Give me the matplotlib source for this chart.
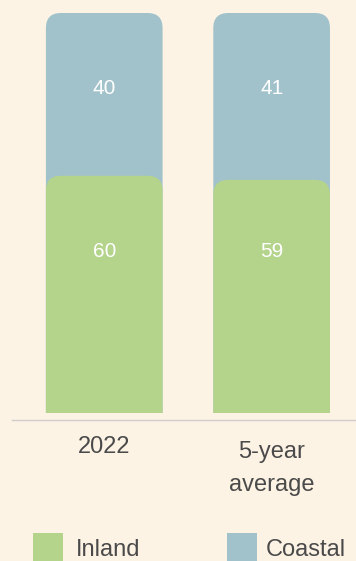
import matplotlib
matplotlib.use("Agg")
import matplotlib.pyplot as plt
from matplotlib.patches import FancyBboxPatch, Rectangle

plt.rcParams['font.family'] = ['Liberation Sans', 'DejaVu Sans']

# Share of the total (%) by region
categories = ["2022", "5-year\naverage"]
inland = [60, 59]
coastal = [40, 41]
series_names = ["Inland", "Coastal"]
series_colors = ["#b4d38b", "#a2c2cb"]

BG = "#fdf3e5"
TEXT = "#4a4a4a"
W, H = 356, 561

fig = plt.figure(figsize=(W / 100, H / 100), dpi=100, facecolor=BG)
# axes spans from the baseline (y=0) up to the top of the stacks
ax = fig.add_axes([12 / W, (H - 420) / H, 344 / W, 407 / H])
ax.set_facecolor(BG)
ax.set_xlim(-0.551, 1.504)
ax.set_ylim(0, 100)
for s in ("top", "left", "right"):
    ax.spines[s].set_visible(False)
ax.spines["bottom"].set_color("#d0cccc")
ax.spines["bottom"].set_linewidth(1.0)
ax.set_xticks([])
ax.set_yticks([])

bar_w = 0.697
radius_px = 15
# convert pixel sizes into data units
px_x = (ax.get_xlim()[1] - ax.get_xlim()[0]) / 344
px_y = 100 / 407
r_x = radius_px * px_x
aspect = px_y / px_x
gap = 7.3 * px_y  # small gap between the bars and the baseline
r_y = radius_px * px_y

clip = Rectangle((ax.get_xlim()[0], gap), 10, 200, transform=ax.transData)

for i, (a, b) in enumerate(zip(inland, coastal)):
    x0 = i - bar_w / 2
    for bottom, top, color in ((-r_y, a + b, series_colors[1]),
                               (-r_y, a, series_colors[0])):
        p = FancyBboxPatch((x0, bottom), bar_w, top - bottom,
                           boxstyle=f"round,pad=0,rounding_size={r_x}",
                           mutation_aspect=aspect, facecolor=color,
                           edgecolor="none", clip_on=True)
        ax.add_patch(p)
        p.set_clip_path(clip)
    ax.text(i, 80, f"{b}", ha="center", va="baseline", color="white",
            fontsize=15)
    ax.text(i, 40, f"{a}", ha="center", va="baseline", color="white",
            fontsize=15)

# category labels under the baseline
label_fs = 17
line_step = 32.7 / 407
first_base = [-33.3 / 407, -38.3 / 407]
for i, lab in enumerate(categories):
    for j, line in enumerate(lab.split("\n")):
        ax.text(i, first_base[i] - j * line_step, line, ha="center",
                va="baseline", color=TEXT, fontsize=label_fs,
                transform=ax.get_xaxis_transform(), clip_on=False)

# legend along the bottom edge
legend_x = [33, 227]
legend_text_x = [76, 266]
for name, color, sx, tx in zip(series_names, series_colors, legend_x, legend_text_x):
    fig.add_artist(Rectangle((sx / W, 0), 30 / W, (H - 533.3) / H,
                             transform=fig.transFigure, facecolor=color,
                             edgecolor="none"))
    fig.text(tx / W, (H - 556) / H, name, ha="left", va="baseline",
             color=TEXT, fontsize=label_fs)

fig.savefig("out.png", dpi=100, facecolor=BG)
